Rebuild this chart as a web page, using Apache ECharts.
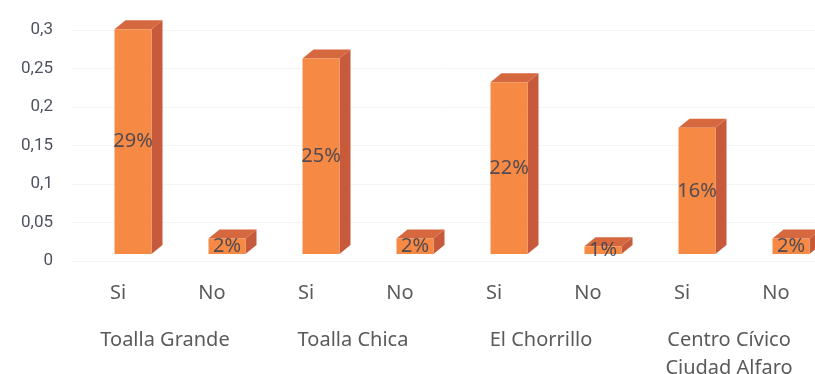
<!DOCTYPE html>
<html>
<head>
<meta charset="utf-8">
<script src="https://cdn.jsdelivr.net/npm/echarts@6/dist/echarts.min.js"></script>
<style>
html,body{margin:0;padding:0;background:#fff;}
#chart{width:815px;height:374px;}
</style>
</head>
<body>
<div id="chart"></div>
<script>
const siteNames = ['Toalla Grande', 'Toalla Chica', 'El Chorrillo', 'Centro Cívico\nCiudad Alfaro'];
const answerLabels = ['Si', 'No'];
const siValues = [0.292, 0.254, 0.223, 0.164];
const noValues = [0.02, 0.02, 0.01, 0.02];
const yMin = 0, yMax = 0.3, yStep = 0.05;

const categories = [];
const values = [];
siteNames.forEach((s, k) => {
  categories.push(answerLabels[0]); values.push(siValues[k]);
  categories.push(answerLabels[1]); values.push(noValues[k]);
});
const seriesData = values.map((v, i) => [i, v]);

const XFONT = '"Noto Sans", Roboto, sans-serif';
const YFONT = 'Roboto, "Noto Sans", sans-serif';
const chart = echarts.init(document.getElementById('chart'));

function renderBar(params, api) {
  const i = api.value(0), v = api.value(1);
  const base = api.coord([i, 0]);
  const top = api.coord([i, v]);
  const w = 37, dx = 11, dy = 9, sx = 15, sy = -7;
  const cx = base[0] + sx;
  const x0 = cx - w / 2, x1 = cx + w / 2;
  const yb = base[1] + sy, yt = top[1] + sy;
  return {
    type: 'group',
    children: [
      { type: 'polygon', shape: { points: [[x1, yb], [x1, yt], [x1 + dx, yt - dy], [x1 + dx, yb - dy]] },
        style: { fill: '#c85a3c' } },
      { type: 'polygon', shape: { points: [[x0, yt], [x1, yt], [x1 + dx, yt - dy], [x0 + dx, yt - dy]] },
        style: { fill: '#d5683f' } },
      { type: 'rect', shape: { x: x0, y: yt, width: w, height: yb - yt },
        style: { fill: '#f68a45' } },
      { type: 'text', x: cx, y: (yt + yb) / 2,
        style: { text: Math.round(v * 100) + '%', fill: 'rgba(55,62,82,0.85)', font: '20px ' + XFONT,
                 align: 'center', verticalAlign: 'middle' } }
    ]
  };
}

chart.setOption({
  animation: false,
  backgroundColor: '#ffffff',
  grid: { left: 71, top: 30, width: 752, height: 231, outerBoundsMode: 'none', containLabel: false },
  xAxis: [
    {
      type: 'category', data: categories, position: 'bottom',
      axisLine: { show: false }, axisTick: { show: false },
      axisLabel: { color: '#5a5a5a', fontFamily: XFONT, fontSize: 20, margin: 22 }
    },
    {
      type: 'category', data: siteNames, position: 'bottom', offset: 43,
      axisLine: { show: false }, axisTick: { show: false },
      axisLabel: { color: '#5a5a5a', fontFamily: XFONT, fontSize: 20, margin: 22, lineHeight: 28 }
    }
  ],
  yAxis: {
    type: 'value', min: yMin, max: yMax, interval: yStep,
    axisLine: { show: false }, axisTick: { show: false },
    splitLine: { show: true, lineStyle: { color: '#f4f4f4' } },
    axisLabel: {
      color: '#4f5260', fontFamily: YFONT, fontSize: 17, margin: 18,
      formatter: v => String(parseFloat(v.toFixed(2))).replace('.', ',')
    }
  },
  series: [{
    type: 'custom', xAxisIndex: 0, yAxisIndex: 0,
    data: seriesData, encode: { x: 0, y: 1 },
    renderItem: renderBar
  }]
});
</script>
</body>
</html>
